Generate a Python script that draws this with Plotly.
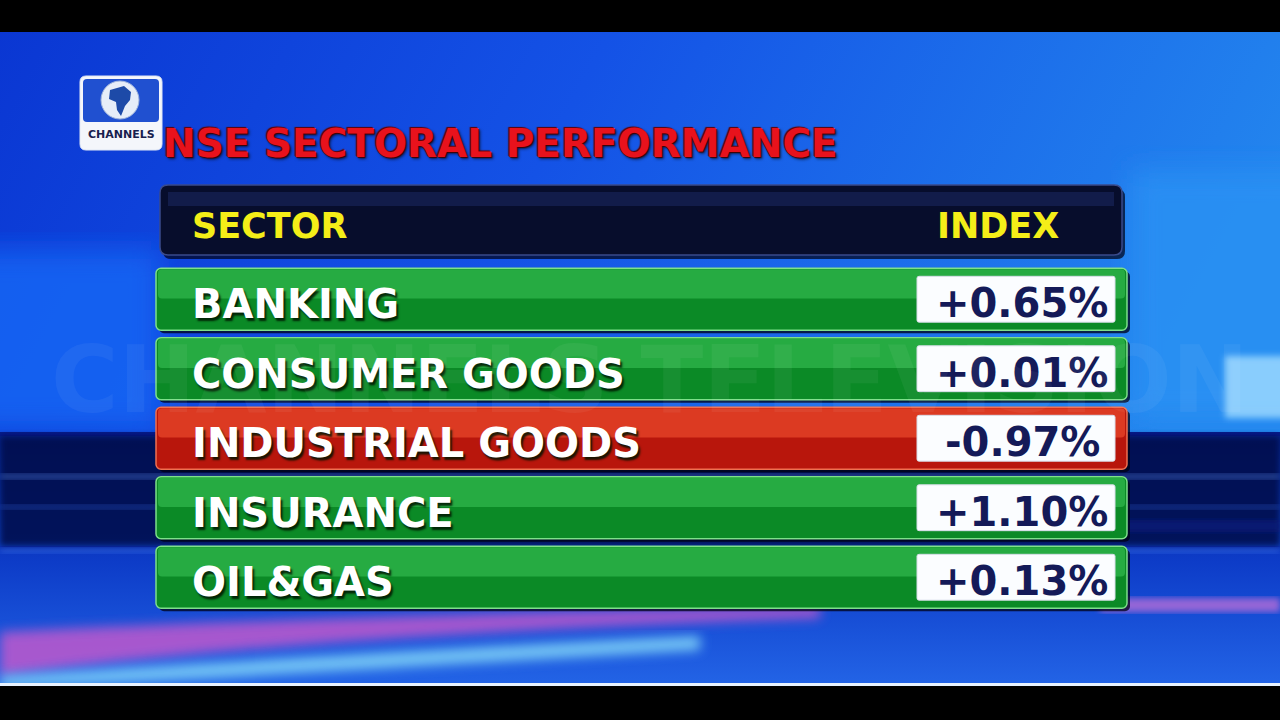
import base64
import plotly.graph_objects as go


SECTORS = ["BANKING", "CONSUMER GOODS", "INDUSTRIAL GOODS", "INSURANCE", "OIL&GAS"]
CHANGES = [0.65, 0.01, -0.97, 1.10, 0.13]
TITLE = "NSE SECTORAL PERFORMANCE"
HEADER_LEFT = "SECTOR"
HEADER_RIGHT = "INDEX"
LOGO_TEXT = "CHANNELS"
WATERMARK = "CHANNELS TELEVISION"

W, H = 1280, 720
FONT = "DejaVu Sans"

# row geometry (pixels, x axis runs 0..1280)
ROW_LEFT, ROW_RIGHT = 156, 1127
BOX_LEFT, BOX_RIGHT = 917, 1115
ROWS_TOP, ROWS_BOTTOM = 264.5, 612


def py(y):
    # pixel row -> paper fraction
    return 1 - y / H


def background_svg():
    svg = f"""<svg xmlns='http://www.w3.org/2000/svg' width='{W}' height='{H}'>
<defs>
<linearGradient id='g' x1='0' y1='0' x2='1' y2='0.3'>
<stop offset='0' stop-color='#0a36d2'/>
<stop offset='0.45' stop-color='#1452e6'/>
<stop offset='1' stop-color='#2386ee'/>
</linearGradient>
<linearGradient id='low' x1='0' y1='0' x2='0' y2='1'>
<stop offset='0' stop-color='#061c8c'/>
<stop offset='0.5' stop-color='#0d3cc8'/>
<stop offset='1' stop-color='#2466e8'/>
</linearGradient>
<filter id='b'><feGaussianBlur stdDeviation='14'/></filter>
<filter id='s'><feGaussianBlur stdDeviation='3'/></filter>
<filter id='m'><feGaussianBlur stdDeviation='6'/></filter>
</defs>
<rect width='{W}' height='{H}' fill='url(#g)'/>
<rect x='-40' y='250' width='200' height='180' fill='#1668f6' opacity='0.8' filter='url(#b)'/>
<rect x='1130' y='170' width='190' height='250' fill='#2a92f4' opacity='0.8' filter='url(#b)'/>
<rect x='1225' y='356' width='70' height='62' fill='#9ad8ff' opacity='0.85' filter='url(#s)'/>
<rect x='0' y='432' width='{W}' height='260' fill='url(#low)'/>
<rect x='0' y='436' width='{W}' height='110' fill='#030848' opacity='0.85' filter='url(#s)'/>
<rect x='0' y='474' width='{W}' height='5' fill='#4d7ad8' opacity='0.6' filter='url(#s)'/>
<rect x='0' y='505' width='{W}' height='4' fill='#2e58c8' opacity='0.6' filter='url(#s)'/>
<rect x='0' y='548' width='{W}' height='5' fill='#3a70e8' opacity='0.6' filter='url(#s)'/>
<rect x='1120' y='520' width='160' height='12' fill='#0a1a80' opacity='0.7' filter='url(#s)'/>
<path d='M0,632 C200,622 500,612 820,606 L820,618 C500,628 200,648 0,676 Z' fill='#c058cc' opacity='0.85' filter='url(#m)'/>
<path d='M0,676 C200,664 450,648 700,636 L700,650 C450,664 200,680 0,688 Z' fill='#80d4f8' opacity='0.9' filter='url(#m)'/>
<rect x='1100' y='598' width='180' height='14' fill='#c070d8' opacity='0.75' filter='url(#s)'/>
<rect x='0' y='683' width='{W}' height='3' fill='#e8f2ff'/>
</svg>"""
    return "data:image/svg+xml;base64," + base64.b64encode(svg.encode()).decode()


def rounded_rect(x0, y0, x1, y1, r):
    # path in pixel coords, converted to paper for y
    return (f"M{x0 + r},{py(y0)} L{x1 - r},{py(y0)} Q{x1},{py(y0)} {x1},{py(y0 + r)} "
            f"L{x1},{py(y1 - r)} Q{x1},{py(y1)} {x1 - r},{py(y1)} L{x0 + r},{py(y1)} "
            f"Q{x0},{py(y1)} {x0},{py(y1 - r)} L{x0},{py(y0 + r)} Q{x0},{py(y0)} {x0 + r},{py(y0)} Z")


def build_figure():
    fig = go.Figure()

    dark = ["#b8160c" if v < 0 else "#0b8a26" for v in CHANGES]
    light = ["#dc3a22" if v < 0 else "#26ab42" for v in CHANGES]
    edge = ["#f07050" if v < 0 else "#7ee08a" for v in CHANGES]
    labels = [f"{v:+.2f}%" for v in CHANGES]
    n = len(SECTORS)

    # drop shadow under each row
    fig.add_trace(go.Bar(
        y=SECTORS, x=[ROW_RIGHT - ROW_LEFT] * n, base=ROW_LEFT + 3,
        orientation="h", width=0.89, offset=-0.40,
        marker=dict(color="rgba(0,0,20,0.75)", cornerradius=5, line_width=0),
        hoverinfo="skip"
    ))

    # row body
    fig.add_trace(go.Bar(
        y=SECTORS, x=[ROW_RIGHT - ROW_LEFT] * n, base=ROW_LEFT,
        orientation="h", width=0.89,
        marker=dict(color=dark, cornerradius=5, line=dict(color=edge, width=1.5)),
        hoverinfo="skip"
    ))

    # glossy upper band
    fig.add_trace(go.Bar(
        y=SECTORS, x=[ROW_RIGHT - ROW_LEFT - 4] * n, base=ROW_LEFT + 2,
        orientation="h", width=0.42, offset=-0.43,
        marker=dict(color=light, cornerradius=4, line_width=0),
        hoverinfo="skip"
    ))

    # white value box
    fig.add_trace(go.Bar(
        y=SECTORS, x=[BOX_RIGHT - BOX_LEFT] * n, base=BOX_LEFT,
        orientation="h", width=0.66,
        marker=dict(color="#fbfdff", cornerradius=2, line=dict(color="#d8dde8", width=1)),
        hoverinfo="skip"
    ))

    annotations = []
    # sector names and index changes, placed on the category axis
    for sector, label in zip(SECTORS, labels):
        annotations.append(dict(
            text=sector, x=190, y=sector, xref="x", yref="y",
            xanchor="left", yanchor="middle", yshift=-5, showarrow=False,
            font=dict(family=FONT, size=40, color="white", weight="bold",
                      shadow="2px 3px 2px rgba(0,20,0,0.85)")))
        annotations.append(dict(
            text=label, x=(BOX_LEFT + BOX_RIGHT) / 2 + 6, y=sector, xref="x", yref="y",
            xanchor="center", yanchor="middle", yshift=-4, showarrow=False,
            font=dict(family=FONT, size=40, color="#141a58", weight="bold")))

    shapes = []
    # header bar
    shapes.append(dict(type="path", xref="x", yref="paper",
                       path=rounded_rect(163, 189, 1125, 259, 8),
                       fillcolor="rgba(0,0,20,0.7)", line_width=0, layer="below"))
    shapes.append(dict(type="path", xref="x", yref="paper",
                       path=rounded_rect(160, 185, 1122, 255, 8),
                       fillcolor="#070d2c", line=dict(color="#3a4a8a", width=1.5), layer="below"))
    shapes.append(dict(type="rect", xref="x", yref="paper", x0=168, x1=1114,
                       y0=py(192), y1=py(206), fillcolor="#121c4a", line_width=0, layer="below"))

    # logo
    shapes.append(dict(type="path", xref="x", yref="paper",
                       path=rounded_rect(80, 76, 162, 150, 6),
                       fillcolor="#f4f6fb", line=dict(color="#dfe6f4", width=1), layer="below"))
    shapes.append(dict(type="path", xref="x", yref="paper",
                       path=rounded_rect(83, 79, 159, 122, 4),
                       fillcolor="#2050d0", line_width=0, layer="below"))
    shapes.append(dict(type="circle", xref="x", yref="paper", x0=101, x1=139,
                       y0=py(119), y1=py(81), fillcolor="#e6edf8",
                       line=dict(color="#9fb4dc", width=1), layer="below"))
    shapes.append(dict(type="path", xref="x", yref="paper",
                       path=(f"M110,{py(90)} L124,{py(86)} L131,{py(92)} L130,{py(100)} "
                             f"L125,{py(106)} L121,{py(116)} L117,{py(110)} L116,{py(102)} "
                             f"L109,{py(99)} Z"),
                       fillcolor="#1d4aa8", line_width=0, layer="below"))

    # black letterbox bars
    shapes.append(dict(type="rect", xref="paper", yref="paper", x0=0, x1=1,
                       y0=py(32), y1=1, fillcolor="black", line_width=0))
    shapes.append(dict(type="rect", xref="paper", yref="paper", x0=0, x1=1,
                       y0=0, y1=py(686), fillcolor="black", line_width=0))

    annotations += [
        dict(text=TITLE, x=161, y=py(144), xref="x", yref="paper",
             xanchor="left", yanchor="middle", showarrow=False,
             font=dict(family=FONT, size=39, color="#e8121c", weight="bold",
                       shadow="1px 1px 1px #400000, -1px -1px 1px #600000, 2px 2px 3px rgba(0,0,0,0.6)")),
        dict(text=HEADER_LEFT, x=190, y=py(226), xref="x", yref="paper",
             xanchor="left", yanchor="middle", showarrow=False,
             font=dict(family=FONT, size=35, color="#f4ee18", weight="bold")),
        dict(text=HEADER_RIGHT, x=998, y=py(226), xref="x", yref="paper",
             xanchor="center", yanchor="middle", showarrow=False,
             font=dict(family=FONT, size=35, color="#f4ee18", weight="bold")),
        dict(text=LOGO_TEXT, x=121, y=py(134), xref="x", yref="paper",
             xanchor="center", yanchor="middle", showarrow=False,
             font=dict(family=FONT, size=11, color="#18204e", weight="bold")),
        dict(text=WATERMARK, x=W / 2 + 10, y=py(380), xref="x", yref="paper",
             xanchor="center", yanchor="middle", showarrow=False,
             font=dict(family=FONT, size=92, color="rgba(255,255,255,0.05)", weight="bold")),
    ]

    fig.update_layout(
        width=W, height=H,
        margin=dict(l=0, r=0, t=0, b=0),
        paper_bgcolor="#1452e6",
        plot_bgcolor="rgba(0,0,0,0)",
        barmode="overlay",
        showlegend=False,
        xaxis=dict(range=[0, W], visible=False, fixedrange=True),
        yaxis=dict(type="category", categoryorder="array", categoryarray=SECTORS,
                   range=[len(SECTORS) - 0.5, -0.5], visible=False, fixedrange=True,
                   domain=[py(ROWS_BOTTOM), py(ROWS_TOP)]),
        images=[dict(source=background_svg(), xref="paper", yref="paper",
                     x=0, y=1, sizex=1, sizey=1, sizing="stretch", layer="below")],
        shapes=shapes,
        annotations=annotations,
    )
    return fig


def main():
    fig = build_figure()
    # drop the browser's default body margin so the 1280x720 figure fills the window
    fig.write_html("out.html", config={"displayModeBar": False},
                   post_script="document.body.style.margin='0';")


if __name__ == "__main__":
    main()
